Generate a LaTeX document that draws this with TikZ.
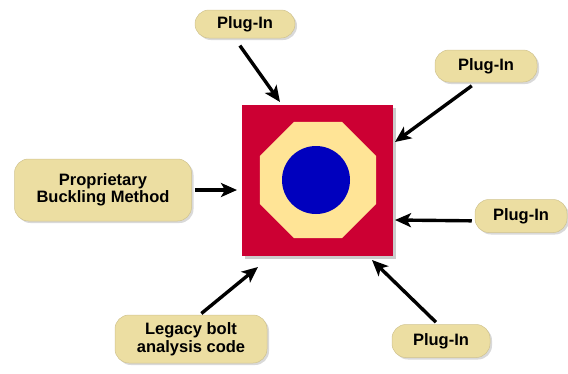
\documentclass[tikz,border=0pt]{standalone}
\usepackage{fontspec}
\setmainfont{Liberation Sans}
\usetikzlibrary{positioning}
\usetikzlibrary{shapes.geometric}
\usetikzlibrary{arrows.meta}
\usetikzlibrary{shadows}
\definecolor{corered}{RGB}{204,0,51}
\definecolor{corecream}{RGB}{255,228,150}
\definecolor{coreblue}{RGB}{0,0,190}
\definecolor{boxtan}{RGB}{236,222,162}
\tikzset{
	plugin/.style={fill=boxtan, draw=boxtan!88!black, line width=0.5pt, rounded corners=14pt,
		minimum width=100pt, minimum height=29pt, align=center, inner sep=1pt,
		font=\bfseries\fontsize{16.5}{17.5}\selectfont,
		drop shadow={shadow xshift=2pt, shadow yshift=-2pt, opacity=0.3}},
	feed/.style={line width=3.4pt, -{Stealth[length=16pt,width=14pt,inset=4pt]}},
}

\begin{document}
\begin{tikzpicture}[x=1pt, y=-1pt]
		\useasboundingbox (0,0) rectangle (568,373);
		% the core: square, octagon and disc
		\node[fill=corered, minimum size=151pt, inner sep=0pt, drop shadow={shadow xshift=3pt, shadow yshift=-3pt, opacity=0.4}] (core) at (317,180) {};
		\node[fill=corecream, regular polygon, regular polygon sides=8, minimum size=125.6pt, inner sep=0pt] (ring) at (318,180) {};
		\node[fill=coreblue, circle, minimum size=68pt, inner sep=0pt] (hub) at (316,180) {};
		% the boxes round it
		\node[plugin, minimum width=100pt, minimum height=28pt] (plugA) at (245,24) {Plug-In};
		\node[plugin, minimum width=102pt, minimum height=32pt] (plugB) at (486,66) {Plug-In};
		\node[plugin, minimum width=92pt, minimum height=33pt] (plugC) at (521,216) {Plug-In};
		\node[plugin, minimum width=98pt, minimum height=33pt] (plugD) at (441,341) {Plug-In};
		\node[plugin, minimum width=177pt, minimum height=62pt] (buckling) at (103,190) {Proprietary\\Buckling Method};
		\node[plugin, minimum width=152pt, minimum height=48pt] (legacy) at (191,339) {Legacy bolt\\analysis code};
		% arrow tips just off the square
		\coordinate (inA) at (280,102);
		\coordinate (inB) at (395,142);
		\coordinate (inC) at (395,220);
		\coordinate (inD) at (372,260);
		\coordinate (inE) at (237,190);
		\coordinate (inF) at (258,267);
		\draw[feed, shorten <=9pt] (plugA.234) -- (inA);
		\draw[feed, shorten <=6pt] (plugB.240) -- (inB);
		\draw[feed, shorten <=3pt] (plugC.186) -- (inC);
		\draw[feed, shorten <=3pt] (plugD.100) -- (inD);
		\draw[feed, shorten <=3pt] (buckling.east) -- (inE);
		\draw[feed, shorten <=2pt] (legacy.70) -- (inF);
	\end{tikzpicture}
\end{document}
